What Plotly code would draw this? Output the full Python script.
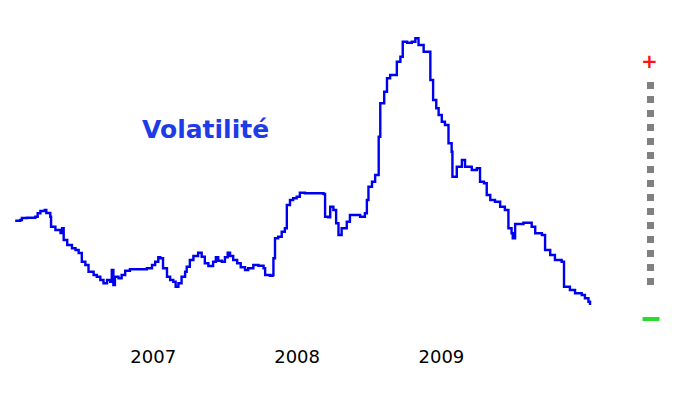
import plotly.graph_objects as go

# ---- data ----
dates = [
    "2006-01-16", "2006-01-29", "2006-02-02", "2006-02-15", "2006-03-08", "2006-03-14",
    "2006-03-21", "2006-04-01", "2006-04-05", "2006-04-15", "2006-04-17", "2006-04-28",
    "2006-05-11", "2006-05-15", "2006-05-19", "2006-05-28", "2006-06-09", "2006-06-18",
    "2006-06-26", "2006-07-04", "2006-07-13", "2006-07-21", "2006-08-03", "2006-08-11",
    "2006-08-20", "2006-08-28", "2006-09-06", "2006-09-14", "2006-09-18", "2006-09-22",
    "2006-09-26", "2006-10-05", "2006-10-13", "2006-10-22", "2006-11-03", "2006-11-20",
    "2006-12-16", "2006-12-29", "2007-01-06", "2007-01-14", "2007-01-19", "2007-01-26",
    "2007-02-05", "2007-02-13", "2007-02-21", "2007-02-27", "2007-03-06", "2007-03-14",
    "2007-03-23", "2007-03-27", "2007-04-04", "2007-04-13", "2007-04-25", "2007-05-04",
    "2007-05-12", "2007-05-21", "2007-06-02", "2007-06-09", "2007-06-15", "2007-06-24",
    "2007-07-02", "2007-07-09", "2007-07-15", "2007-07-23", "2007-08-02", "2007-08-11",
    "2007-08-22", "2007-08-30", "2007-09-12", "2007-09-25", "2007-10-08", "2007-10-12",
    "2007-10-24", "2007-10-31", "2007-11-02", "2007-11-06", "2007-11-14", "2007-11-23",
    "2007-12-01", "2007-12-06", "2007-12-14", "2007-12-22", "2007-12-31", "2008-01-08",
    "2008-01-21", "2008-02-28", "2008-03-08", "2008-03-12", "2008-03-20", "2008-03-25",
    "2008-04-02", "2008-04-09", "2008-04-15", "2008-04-23", "2008-05-06", "2008-05-14",
    "2008-06-09", "2008-06-21", "2008-06-26", "2008-06-30", "2008-07-09", "2008-07-17",
    "2008-07-26", "2008-07-30", "2008-08-09", "2008-08-16", "2008-08-24", "2008-09-06",
    "2008-09-10", "2008-09-19", "2008-09-25", "2008-10-06", "2008-10-18", "2008-10-27",
    "2008-11-04", "2008-11-17", "2008-11-29", "2008-12-04", "2008-12-11", "2008-12-19",
    "2008-12-25", "2009-01-02", "2009-01-10", "2009-01-19", "2009-01-27", "2009-01-29",
    "2009-02-09", "2009-02-22", "2009-03-02", "2009-03-19", "2009-04-01", "2009-04-09",
    "2009-04-19", "2009-04-26", "2009-05-05", "2009-05-17", "2009-05-30", "2009-06-11",
    "2009-06-20", "2009-06-28", "2009-07-01", "2009-07-07", "2009-07-28", "2009-08-18",
    "2009-08-27", "2009-09-13", "2009-09-21", "2009-10-04", "2009-10-16", "2009-11-02",
    "2009-11-08", "2009-11-23", "2009-12-06", "2009-12-23", "2009-12-31", "2010-01-09",
    "2010-01-13",
]

volatility = [
    10.93, 11.0, 11.2, 11.23, 11.33, 11.67,
    11.9, 12.0, 11.7, 11.33, 10.33, 10.0,
    9.7, 10.17, 9.0, 8.5, 8.17, 8.0,
    7.7, 6.83, 6.5, 5.83, 5.5, 5.33,
    5.0, 4.67, 5.0, 4.83, 6.0, 4.5,
    5.33, 5.17, 5.5, 5.93, 6.07, 6.07,
    6.17, 6.5, 6.83, 7.27, 7.17, 6.17,
    5.33, 5.0, 4.83, 4.33, 4.67, 5.33,
    5.83, 6.33, 7.0, 7.4, 7.73, 7.33,
    6.67, 6.4, 6.83, 7.27, 6.93, 6.83,
    7.27, 7.73, 7.4, 7.0, 6.67, 6.27,
    6.0, 6.17, 6.5, 6.43, 6.17, 5.5,
    5.43, 5.5, 7.17, 9.17, 9.33, 9.83,
    10.17, 12.5, 13.0, 13.17, 13.33, 13.73,
    13.67, 13.67, 13.6, 11.33, 11.27, 12.33,
    12.0, 10.67, 9.5, 10.17, 10.83, 11.5,
    11.33, 11.67, 13.0, 14.33, 14.83, 15.5,
    19.33, 22.67, 23.83, 25.17, 25.5, 25.5,
    26.83, 27.33, 28.83, 28.73, 28.83, 29.17,
    28.5, 27.83, 27.83, 25.0, 23.0, 22.17,
    21.5, 20.83, 20.5, 18.67, 17.83, 15.33,
    16.33, 17.0, 16.33, 16.0, 16.17, 14.83,
    14.67, 13.5, 13.0, 12.83, 12.33, 12.0,
    10.17, 9.67, 9.17, 10.6, 10.73, 10.33,
    9.67, 9.5, 8.0, 7.5, 7.0, 6.83,
    4.33, 4.0, 3.67, 3.5, 3.17, 2.83,
    2.5,
]

tick_values = ["2007-01-01", "2008-01-01", "2009-01-01"]
tick_labels = ["2007", "2008", "2009"]
title_text = "Volatilité"

# ---- page geometry (the html body has an 8px margin) ----
OFF = 8
W, H = 683, 385
L, R, T, B = 6, 99, 12, 49
pw, ph = W - L - R, H - T - B


def px(x):
    """page pixel x -> paper x"""
    return (x - OFF - L) / pw


def py(y):
    """page pixel y -> paper y"""
    return (H - B - (y - OFF)) / ph


# ---- figure ----
fig = go.Figure()
fig.add_trace(go.Scatter(
    x=dates, y=volatility, mode="lines",
    line=dict(color="rgb(0,0,240)", width=2.4, shape="hv"),
    showlegend=False, hoverinfo="x+y",
))

fig.update_layout(
    width=W, height=H,
    margin=dict(l=L, r=R, t=T, b=B),
    paper_bgcolor="white", plot_bgcolor="white",
    showlegend=False,
    xaxis=dict(
        range=["2006-01-13", "2010-01-18"],
        tickmode="array", tickvals=tick_values, ticktext=tick_labels,
        showgrid=False, zeroline=False, showline=False, ticks="",
        tickfont=dict(family="DejaVu Sans", size=18, color="black"),
    ),
    yaxis=dict(
        range=[-1.4, 31],
        showgrid=False, zeroline=False, showline=False,
        showticklabels=False, ticks="",
    ),
    annotations=[
        dict(x=px(205), y=py(129), xref="paper", yref="paper", text=title_text,
             showarrow=False,
             font=dict(family="DejaVu Sans", size=25, color="rgb(30,60,230)", weight="bold"),
             xanchor="center", yanchor="middle"),
        dict(x=px(649.5), y=py(61), xref="paper", yref="paper", text="+",
             showarrow=False,
             font=dict(family="DejaVu Sans", size=20, color="rgb(255,20,20)", weight="bold"),
             xanchor="center", yanchor="middle"),
    ],
)

# gray dashed scale bar and green minus sign
fig.add_shape(type="line", xref="paper", yref="paper",
              x0=px(650.5), x1=px(650.5), y0=py(82), y1=py(288),
              line=dict(color="rgb(128,128,128)", width=7, dash="7px,7px"))
fig.add_shape(type="line", xref="paper", yref="paper",
              x0=px(642.5), x1=px(659.5), y0=py(319), y1=py(319),
              line=dict(color="rgb(40,220,40)", width=4))

fig.write_html("out.html")
